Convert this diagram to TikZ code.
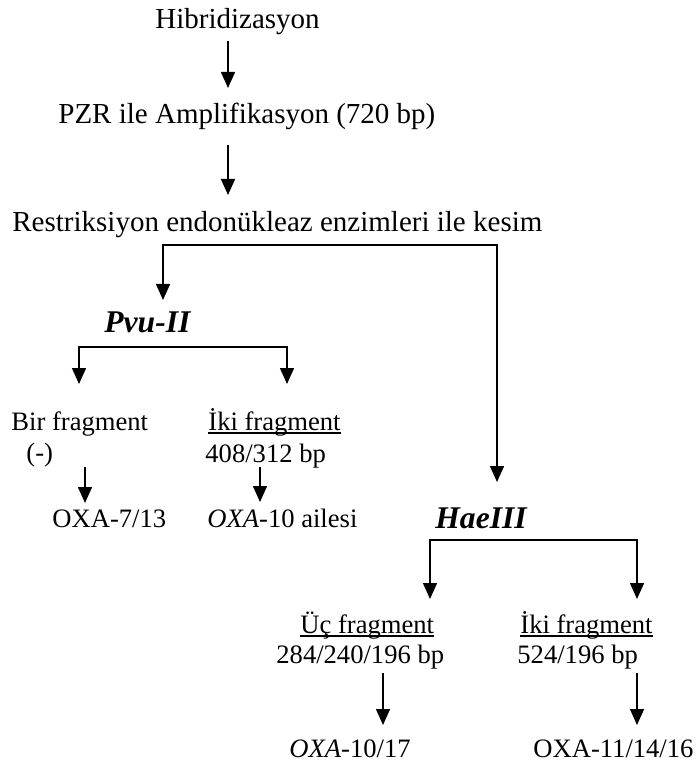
\documentclass[tikz,border=0pt]{standalone}
\usepackage{fontspec}
\setmainfont{Liberation Serif}
\usetikzlibrary{arrows.meta}
\newcommand\myul[1]{\setbox0\hbox{#1}\rlap{\vrule height -1.0pt depth 1.9pt width \wd0}\box0}
\tikzset{
  lbl/.style={anchor=base west, inner sep=0pt, font=\fontsize{13.3}{16}\selectfont},
  toplbl/.style={lbl, font=\fontsize{14.5}{17}\selectfont},
  enz/.style={lbl, font=\fontsize{15.8}{18}\selectfont\bfseries\itshape},
  arr/.style={line width=0.75pt, -{Triangle[length=8pt,width=7pt]}},
  barr/.style={line width=0.75pt, {Triangle[length=8pt,width=7pt]}-{Triangle[length=8pt,width=7pt]}},
}
\begin{document}
\begin{tikzpicture}[x=0.5pt,y=-0.5pt]
\path[use as bounding box] (0,0) rectangle (697,764);
% text
\node[toplbl] (hib) at (155,29) {Hibridizasyon};
\node[toplbl] (pzr) at (58,124) {PZR ile Amplifikasyon (720 bp)};
\node[toplbl] (res) at (12,232) {Restriksiyon endonükleaz enzimleri ile kesim};
\node[enz] (pvu) at (104,332) {Pvu-II};
\node[lbl] (bir) at (11,430) {Bir fragment};
\node[lbl] (neg) at (26,461) {(-)};
\node[lbl] (iki1) at (208,430) {\myul{İki fragment}};
\node[lbl] (bp1) at (205,462) {408/312 bp};
\node[lbl] (oxa7) at (52,527) {OXA-7/13};
\node[lbl] (oxa10) at (207,527) {\textit{OXA}-10 ailesi};
\node[enz] (hae) at (435,528) {HaeIII};
\node[lbl] (uc) at (300,633) {\myul{Üç fragment}};
\node[lbl] (bp3) at (276,663) {284/240/196 bp};
\node[lbl] (iki2) at (520,633) {\myul{İki fragment}};
\node[lbl] (bp2) at (517,663) {524/196 bp};
\node[lbl] (oxa1017) at (289,757) {\textit{OXA}-10/17};
\node[lbl] (oxa11) at (533,757) {OXA-11/14/16};
% coordinates
\coordinate (a1s) at (228,41);  \coordinate (a1e) at (228,88);
\coordinate (a2s) at (228,145); \coordinate (a2e) at (228,195);
\coordinate (b1m) at (330,245); \coordinate (b1l) at (163,300); \coordinate (b1r) at (497,482);
\coordinate (b2m) at (183,347); \coordinate (b2l) at (79,384);  \coordinate (b2r) at (287,384);
\coordinate (a3s) at (85,467);  \coordinate (a3e) at (85,503);
\coordinate (a4s) at (260,467); \coordinate (a4e) at (260,502);
\coordinate (b3m) at (533,540); \coordinate (b3l) at (430,599); \coordinate (b3r) at (637,599);
\coordinate (a5s) at (383,673); \coordinate (a5e) at (383,725);
\coordinate (a6s) at (637,673); \coordinate (a6e) at (637,725);
% connectors
\draw[arr] (a1s) -- (a1e);
\draw[arr] (a2s) -- (a2e);
\draw[barr] (b1l) |- (b1m) -| (b1r);
\draw[barr] (b2l) |- (b2m) -| (b2r);
\draw[arr] (a3s) -- (a3e);
\draw[arr] (a4s) -- (a4e);
\draw[barr] (b3l) |- (b3m) -| (b3r);
\draw[arr] (a5s) -- (a5e);
\draw[arr] (a6s) -- (a6e);
\end{tikzpicture}
\end{document}
